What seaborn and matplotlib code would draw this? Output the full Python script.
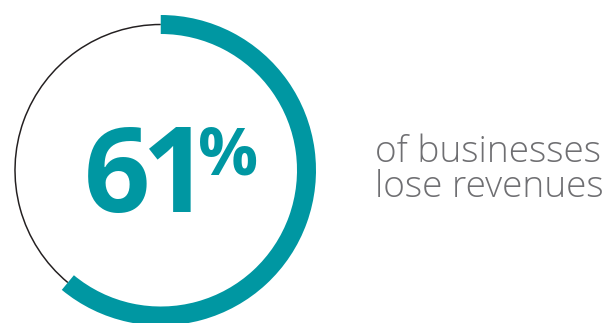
import matplotlib
matplotlib.use("Agg")
import matplotlib.pyplot as plt
import seaborn as sns
from matplotlib.textpath import TextPath
from matplotlib.font_manager import FontProperties

# data
share_pct = [61, 39]          # affected vs. remaining
big_digits = ["6", "1"]
pct_sign = "%"
caption_lines = ["of businesses", "lose revenues"]

TEAL = "#0097a2"
RING = "#231f20"
GRAY = "#6f6f72"

sns.set_theme(style="white")
plt.rcParams["font.family"] = ["Open Sans", "DejaVu Sans"]

W, H = 614, 323
fig = plt.figure(figsize=(W / 100, H / 100), dpi=100)
ax = fig.add_axes([0, 0, 1, 1])

cx, cy = 160.75, H - 170.25
r_mid = 145.75
thick = 19

ax.pie(share_pct, colors=["none", RING], startangle=90, counterclock=False,
       radius=r_mid + 0.75, center=(cx, cy),
       wedgeprops=dict(width=1.5, linewidth=0))
ax.pie(share_pct, colors=[TEAL, "none"], startangle=90, counterclock=False,
       radius=r_mid + thick / 2, center=(cx, cy),
       wedgeprops=dict(width=thick, linewidth=0))

ax.set_xlim(0, W)
ax.set_ylim(0, H)
ax.set_aspect("equal")
ax.axis("off")

fam = ["Open Sans", "DejaVu Sans"]


def place(s, left, top, bottom, weight, color):
    """Real text whose ink box starts at `left` and spans top..bottom (px)."""
    fp = FontProperties(family=fam, weight=weight)
    ext = TextPath((0, 0), s, prop=fp, size=100).get_extents()
    scale = (bottom - top) / (ext.y1 - ext.y0)
    size_pt = 100 * scale * 72 / 100
    x0 = left - ext.x0 * scale
    base = bottom + ext.y0 * scale
    ax.text(x0, H - base, s, color=color, fontsize=size_pt, fontweight=weight,
            family=fam, ha="left", va="baseline")


place(big_digits[0], 88, 128, 213, "bold", TEAL)
place(big_digits[1], 149, 128, 212, "bold", TEAL)
place(pct_sign, 200, 126, 175, "bold", TEAL)

# caption: fit width of the longer line (378..602 px)
fp_c = FontProperties(family=fam, weight=300)
ext_c = TextPath((0, 0), caption_lines[1], prop=fp_c, size=100).get_extents()
sc = (602 - 378) / (ext_c.x1 - ext_c.x0)
cap_pt = 100 * sc * 72 / 100
cap_x = 378 - ext_c.x0 * sc
for line, base in zip(caption_lines, [162, 197]):
    ax.text(cap_x, H - base, line, color=GRAY, fontsize=cap_pt, fontweight=300,
            family=fam, ha="left", va="baseline")

fig.savefig("out.png", dpi=100, facecolor="white")
